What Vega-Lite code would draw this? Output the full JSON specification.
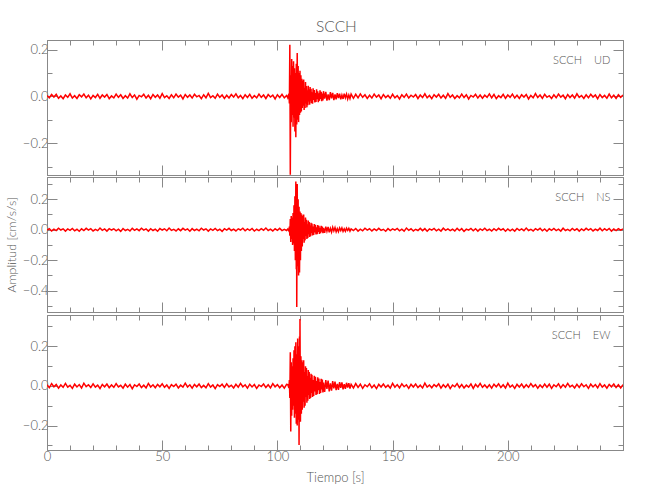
{
"$schema":"https://vega.github.io/schema/vega-lite/v6.json",
"background":"white",
"padding":{"left":4,"top":19,"right":5,"bottom":5},
"title":{"text":"SCCH","font":"Lato","fontSize":15.5,"fontWeight":300,"color":"#555","offset":4,"anchor":"middle","dx":22},
"config":{
 "view":{"stroke":"#888","strokeWidth":1},
 "concat":{"spacing":0},
 "axis":{"domainColor":"#888","tickColor":"#888","labelColor":"#555","labelFont":"Lato","labelFontWeight":300,"labelFontSize":13,"titleFont":"Lato","titleFontSize":13,"titleFontWeight":300,"titleColor":"#555","grid":false,"labelOverlap":false,"labelFlush":false,"labelBound":false}
},
"datasets":{
"ud":[
{"t":0,"v":0.004},{"t":1,"v":-0.006},{"t":2,"v":0.008},{"t":3,"v":-0.003},{"t":4,"v":0.009},{"t":5,"v":-0.008},{"t":6,"v":0.002},{"t":7,"v":-0.01},{"t":8,"v":0.006},{"t":9,"v":-0.004},
{"t":10,"v":0.011},{"t":11,"v":-0.007},{"t":12,"v":0.003},{"t":13,"v":-0.009},{"t":14,"v":0.007},{"t":15,"v":-0.002},{"t":16,"v":0.01},{"t":17,"v":-0.006},{"t":18,"v":0.005},{"t":19,"v":-0.011},
{"t":20,"v":0.004},{"t":21,"v":-0.005},{"t":22,"v":0.009},{"t":23,"v":-0.008},{"t":24,"v":0.006},{"t":25,"v":-0.003},{"t":26,"v":0.008},{"t":27,"v":-0.01},{"t":28,"v":0.002},{"t":29,"v":-0.006},
{"t":30,"v":0.01},{"t":31,"v":-0.004},{"t":32,"v":0.007},{"t":33,"v":-0.009},{"t":34,"v":0.003},{"t":35,"v":-0.007},{"t":36,"v":0.011},{"t":37,"v":-0.005},{"t":38,"v":0.006},{"t":39,"v":-0.012},
{"t":40,"v":0.004},{"t":41,"v":-0.002},{"t":42,"v":0.009},{"t":43,"v":-0.007},{"t":44,"v":0.005},{"t":45,"v":-0.01},{"t":46,"v":0.008},{"t":47,"v":-0.004},{"t":48,"v":0.006},{"t":49,"v":-0.008},
{"t":50,"v":0.012},{"t":51,"v":-0.005},{"t":52,"v":0.003},{"t":53,"v":-0.009},{"t":54,"v":0.007},{"t":55,"v":-0.006},{"t":56,"v":0.01},{"t":57,"v":-0.003},{"t":58,"v":0.005},{"t":59,"v":-0.011},
{"t":60,"v":0.008},{"t":61,"v":-0.004},{"t":62,"v":0.006},{"t":63,"v":-0.007},{"t":64,"v":0.009},{"t":65,"v":-0.002},{"t":66,"v":0.004},{"t":67,"v":-0.01},{"t":68,"v":0.007},{"t":69,"v":-0.006},
{"t":70,"v":0.013},{"t":71,"v":-0.005},{"t":72,"v":0.003},{"t":73,"v":-0.008},{"t":74,"v":0.01},{"t":75,"v":-0.004},{"t":76,"v":0.006},{"t":77,"v":-0.009},{"t":78,"v":0.005},{"t":79,"v":-0.007},
{"t":80,"v":0.008},{"t":81,"v":-0.003},{"t":82,"v":0.011},{"t":83,"v":-0.006},{"t":84,"v":0.004},{"t":85,"v":-0.01},{"t":86,"v":0.007},{"t":87,"v":-0.005},{"t":88,"v":0.009},{"t":89,"v":-0.008},
{"t":90,"v":0.003},{"t":91,"v":-0.006},{"t":92,"v":0.01},{"t":93,"v":-0.004},{"t":94,"v":0.006},{"t":95,"v":-0.009},{"t":96,"v":0.008},{"t":97,"v":-0.003},{"t":98,"v":0.005},{"t":99,"v":-0.011},
{"t":100,"v":0.007},{"t":101,"v":-0.005},{"t":102,"v":0.009},{"t":103,"v":-0.006},{"t":104,"v":0.004},
{"t":104.5,"v":-0.006},{"t":105,"v":0.012},{"t":105.2,"v":-0.03},{"t":105.4,"v":0.221},{"t":105.6,"v":-0.335},{"t":105.8,"v":0.09},{"t":106,"v":-0.11},{"t":106.2,"v":0.16},{"t":106.4,"v":-0.08},{"t":106.6,"v":0.13},{"t":106.8,"v":-0.13},
{"t":107,"v":0.15},{"t":107.2,"v":-0.09},{"t":107.4,"v":0.12},{"t":107.6,"v":-0.15},{"t":107.8,"v":0.1},{"t":108,"v":-0.175},{"t":108.2,"v":0.14},{"t":108.4,"v":-0.12},{"t":108.6,"v":0.185},{"t":108.8,"v":-0.1},
{"t":109,"v":0.13},{"t":109.2,"v":-0.11},{"t":109.4,"v":0.1},{"t":109.6,"v":-0.08},{"t":109.8,"v":0.11},{"t":110,"v":-0.07},{"t":110.2,"v":0.09},{"t":110.4,"v":-0.065},{"t":110.6,"v":0.075},{"t":110.8,"v":-0.05},
{"t":111,"v":0.068},{"t":111.2,"v":-0.04},{"t":111.4,"v":0.072},{"t":111.6,"v":-0.058},{"t":111.8,"v":0.035},{"t":112,"v":-0.05},{"t":112.2,"v":0.061},{"t":112.4,"v":-0.03},{"t":112.6,"v":0.044},{"t":112.8,"v":-0.047},
{"t":113,"v":0.026},{"t":113.2,"v":-0.038},{"t":113.4,"v":0.045},{"t":113.6,"v":-0.022},{"t":113.8,"v":0.03},{"t":114,"v":-0.036},{"t":114.2,"v":0.04},{"t":114.4,"v":-0.018},{"t":114.6,"v":0.033},{"t":114.8,"v":-0.029},
{"t":115,"v":0.018},{"t":115.25,"v":-0.031},{"t":115.5,"v":0.035},{"t":115.75,"v":-0.015},{"t":116,"v":0.027},{"t":116.25,"v":-0.026},{"t":116.5,"v":0.014},{"t":116.75,"v":-0.024},{"t":117,"v":0.03},{"t":117.25,"v":-0.012},
{"t":117.5,"v":0.022},{"t":117.75,"v":-0.025},{"t":118,"v":0.013},{"t":118.25,"v":-0.019},{"t":118.5,"v":0.026},{"t":118.75,"v":-0.011},{"t":119,"v":0.02},{"t":119.25,"v":-0.021},{"t":119.5,"v":0.012},{"t":119.75,"v":-0.017},
{"t":120,"v":0.022},{"t":120.5,"v":-0.01},{"t":121,"v":0.019},{"t":121.5,"v":-0.018},{"t":122,"v":0.009},{"t":122.5,"v":-0.016},{"t":123,"v":0.018},{"t":123.5,"v":-0.008},{"t":124,"v":0.015},{"t":124.5,"v":-0.016},
{"t":125,"v":0.008},{"t":125.5,"v":-0.013},{"t":126,"v":0.014},{"t":126.5,"v":-0.007},{"t":127,"v":0.012},{"t":127.5,"v":-0.013},{"t":128,"v":0.006},{"t":128.5,"v":-0.011},{"t":129,"v":0.012},{"t":129.5,"v":-0.006},
{"t":130,"v":0.01},{"t":130.5,"v":-0.011},{"t":131,"v":0.006},{"t":131.5,"v":-0.009},{"t":132,"v":0.01},
{"t":133,"v":-0.008},{"t":134,"v":0.009},{"t":135,"v":-0.006},{"t":136,"v":0.011},{"t":137,"v":-0.004},{"t":138,"v":0.007},{"t":139,"v":-0.009},{"t":140,"v":0.005},{"t":141,"v":-0.007},{"t":142,"v":0.01},
{"t":143,"v":-0.003},{"t":144,"v":0.006},{"t":145,"v":-0.01},{"t":146,"v":0.008},{"t":147,"v":-0.005},{"t":148,"v":0.004},{"t":149,"v":-0.008},{"t":150,"v":0.009},{"t":151,"v":-0.006},{"t":152,"v":0.003},
{"t":153,"v":-0.011},{"t":154,"v":0.007},{"t":155,"v":-0.004},{"t":156,"v":0.01},{"t":157,"v":-0.007},{"t":158,"v":0.005},{"t":159,"v":-0.003},{"t":160,"v":0.008},{"t":161,"v":-0.009},{"t":162,"v":0.006},
{"t":163,"v":-0.005},{"t":164,"v":0.011},{"t":165,"v":-0.006},{"t":166,"v":0.004},{"t":167,"v":-0.01},{"t":168,"v":0.007},{"t":169,"v":-0.003},{"t":170,"v":0.009},{"t":171,"v":-0.007},{"t":172,"v":0.005},
{"t":173,"v":-0.008},{"t":174,"v":0.012},{"t":175,"v":-0.004},{"t":176,"v":0.006},{"t":177,"v":-0.009},{"t":178,"v":0.003},{"t":179,"v":-0.006},{"t":180,"v":0.01},{"t":181,"v":-0.005},{"t":182,"v":0.007},
{"t":183,"v":-0.011},{"t":184,"v":0.004},{"t":185,"v":-0.003},{"t":186,"v":0.009},{"t":187,"v":-0.007},{"t":188,"v":0.006},{"t":189,"v":-0.008},{"t":190,"v":0.005},{"t":191,"v":-0.004},{"t":192,"v":0.011},
{"t":193,"v":-0.006},{"t":194,"v":0.008},{"t":195,"v":-0.01},{"t":196,"v":0.003},{"t":197,"v":-0.005},{"t":198,"v":0.009},{"t":199,"v":-0.008},{"t":200,"v":0.006},{"t":201,"v":-0.004},{"t":202,"v":0.01},
{"t":203,"v":-0.007},{"t":204,"v":0.005},{"t":205,"v":-0.009},{"t":206,"v":0.007},{"t":207,"v":-0.003},{"t":208,"v":0.008},{"t":209,"v":-0.011},{"t":210,"v":0.004},{"t":211,"v":-0.006},{"t":212,"v":0.012},
{"t":213,"v":-0.005},{"t":214,"v":0.006},{"t":215,"v":-0.008},{"t":216,"v":0.009},{"t":217,"v":-0.004},{"t":218,"v":0.003},{"t":219,"v":-0.009},{"t":220,"v":0.007},{"t":221,"v":-0.006},{"t":222,"v":0.01},
{"t":223,"v":-0.003},{"t":224,"v":0.005},{"t":225,"v":-0.01},{"t":226,"v":0.008},{"t":227,"v":-0.005},{"t":228,"v":0.006},{"t":229,"v":-0.007},{"t":230,"v":0.011},{"t":231,"v":-0.004},{"t":232,"v":0.004},
{"t":233,"v":-0.009},{"t":234,"v":0.007},{"t":235,"v":-0.006},{"t":236,"v":0.009},{"t":237,"v":-0.003},{"t":238,"v":0.006},{"t":239,"v":-0.01},{"t":240,"v":0.008},{"t":241,"v":-0.005},{"t":242,"v":0.004},
{"t":243,"v":-0.008},{"t":244,"v":0.01},{"t":245,"v":-0.006},{"t":246,"v":0.005},{"t":247,"v":-0.009},{"t":248,"v":0.007},{"t":249,"v":-0.004},{"t":250,"v":0.006}
],
"ns":[
{"t":0,"v":-0.003},{"t":1,"v":0.007},{"t":2,"v":-0.008},{"t":3,"v":0.004},{"t":4,"v":-0.006},{"t":5,"v":0.01},{"t":6,"v":-0.002},{"t":7,"v":0.006},{"t":8,"v":-0.009},{"t":9,"v":0.005},
{"t":10,"v":-0.004},{"t":11,"v":0.008},{"t":12,"v":-0.007},{"t":13,"v":0.003},{"t":14,"v":-0.01},{"t":15,"v":0.006},{"t":16,"v":-0.005},{"t":17,"v":0.009},{"t":18,"v":-0.003},{"t":19,"v":0.007},
{"t":20,"v":-0.008},{"t":21,"v":0.002},{"t":22,"v":-0.006},{"t":23,"v":0.011},{"t":24,"v":-0.004},{"t":25,"v":0.005},{"t":26,"v":-0.009},{"t":27,"v":0.007},{"t":28,"v":-0.002},{"t":29,"v":0.006},
{"t":30,"v":-0.007},{"t":31,"v":0.004},{"t":32,"v":-0.011},{"t":33,"v":0.008},{"t":34,"v":-0.005},{"t":35,"v":0.003},{"t":36,"v":-0.008},{"t":37,"v":0.009},{"t":38,"v":-0.004},{"t":39,"v":0.006},
{"t":40,"v":-0.006},{"t":41,"v":0.01},{"t":42,"v":-0.003},{"t":43,"v":0.005},{"t":44,"v":-0.009},{"t":45,"v":0.007},{"t":46,"v":-0.005},{"t":47,"v":0.004},{"t":48,"v":-0.01},{"t":49,"v":0.008},
{"t":50,"v":-0.002},{"t":51,"v":0.006},{"t":52,"v":-0.007},{"t":53,"v":0.011},{"t":54,"v":-0.004},{"t":55,"v":0.003},{"t":56,"v":-0.008},{"t":57,"v":0.006},{"t":58,"v":-0.006},{"t":59,"v":0.009},
{"t":60,"v":-0.003},{"t":61,"v":0.005},{"t":62,"v":-0.01},{"t":63,"v":0.007},{"t":64,"v":-0.005},{"t":65,"v":0.004},{"t":66,"v":-0.007},{"t":67,"v":0.01},{"t":68,"v":-0.002},{"t":69,"v":0.006},
{"t":70,"v":-0.009},{"t":71,"v":0.005},{"t":72,"v":-0.004},{"t":73,"v":0.008},{"t":74,"v":-0.006},{"t":75,"v":0.003},{"t":76,"v":-0.011},{"t":77,"v":0.007},{"t":78,"v":-0.003},{"t":79,"v":0.009},
{"t":80,"v":-0.005},{"t":81,"v":0.004},{"t":82,"v":-0.008},{"t":83,"v":0.006},{"t":84,"v":-0.002},{"t":85,"v":0.01},{"t":86,"v":-0.007},{"t":87,"v":0.005},{"t":88,"v":-0.004},{"t":89,"v":0.008},
{"t":90,"v":-0.009},{"t":91,"v":0.003},{"t":92,"v":-0.006},{"t":93,"v":0.007},{"t":94,"v":-0.003},{"t":95,"v":0.011},{"t":96,"v":-0.005},{"t":97,"v":0.004},{"t":98,"v":-0.008},{"t":99,"v":0.006},
{"t":100,"v":-0.004},{"t":101,"v":0.009},{"t":102,"v":-0.006},{"t":103,"v":0.003},{"t":104,"v":-0.005},
{"t":104.5,"v":0.004},{"t":105,"v":-0.008},{"t":105.2,"v":0.02},{"t":105.4,"v":-0.04},{"t":105.6,"v":0.07},{"t":105.8,"v":-0.08},{"t":106,"v":0.09},{"t":106.2,"v":-0.06},{"t":106.4,"v":0.08},{"t":106.6,"v":-0.1},{"t":106.8,"v":0.11},
{"t":107,"v":-0.09},{"t":107.2,"v":0.16},{"t":107.4,"v":-0.14},{"t":107.6,"v":0.22},{"t":107.8,"v":-0.2},{"t":108,"v":0.317},{"t":108.2,"v":-0.26},{"t":108.3,"v":0.28},{"t":108.4,"v":-0.507},{"t":108.6,"v":0.3},{"t":108.8,"v":-0.24},
{"t":109,"v":0.2},{"t":109.2,"v":-0.3},{"t":109.4,"v":0.15},{"t":109.6,"v":-0.28},{"t":109.8,"v":0.12},{"t":110,"v":-0.2},{"t":110.2,"v":0.11},{"t":110.4,"v":-0.14},{"t":110.6,"v":0.1},{"t":110.8,"v":-0.11},
{"t":111,"v":0.09},{"t":111.2,"v":-0.06},{"t":111.4,"v":0.1},{"t":111.6,"v":-0.085},{"t":111.8,"v":0.05},{"t":112,"v":-0.07},{"t":112.2,"v":0.08},{"t":112.4,"v":-0.04},{"t":112.6,"v":0.065},{"t":112.8,"v":-0.06},
{"t":113,"v":0.035},{"t":113.2,"v":-0.055},{"t":113.4,"v":0.06},{"t":113.6,"v":-0.03},{"t":113.8,"v":0.05},{"t":114,"v":-0.048},{"t":114.2,"v":0.028},{"t":114.4,"v":-0.042},{"t":114.6,"v":0.046},{"t":114.8,"v":-0.022},
{"t":115,"v":0.04},{"t":115.25,"v":-0.038},{"t":115.5,"v":0.02},{"t":115.75,"v":-0.035},{"t":116,"v":0.037},{"t":116.25,"v":-0.018},{"t":116.5,"v":0.032},{"t":116.75,"v":-0.031},{"t":117,"v":0.016},{"t":117.25,"v":-0.029},
{"t":117.5,"v":0.03},{"t":117.75,"v":-0.014},{"t":118,"v":0.026},{"t":118.25,"v":-0.027},{"t":118.5,"v":0.013},{"t":118.75,"v":-0.023},{"t":119,"v":0.025},{"t":119.25,"v":-0.012},{"t":119.5,"v":0.021},{"t":119.75,"v":-0.022},
{"t":120,"v":0.011},{"t":120.5,"v":-0.02},{"t":121,"v":0.02},{"t":121.5,"v":-0.01},{"t":122,"v":0.018},{"t":122.5,"v":-0.017},{"t":123,"v":0.009},{"t":123.5,"v":-0.016},{"t":124,"v":0.016},{"t":124.5,"v":-0.008},
{"t":125,"v":0.014},{"t":125.5,"v":-0.014},{"t":126,"v":0.007},{"t":126.5,"v":-0.013},{"t":127,"v":0.012},{"t":127.5,"v":-0.006},{"t":128,"v":0.012},{"t":128.5,"v":-0.011},{"t":129,"v":0.006},{"t":129.5,"v":-0.01},
{"t":130,"v":0.01},{"t":130.5,"v":-0.005},{"t":131,"v":0.009},{"t":131.5,"v":-0.009},{"t":132,"v":0.006},
{"t":133,"v":-0.006},{"t":134,"v":0.008},{"t":135,"v":-0.009},{"t":136,"v":0.004},{"t":137,"v":-0.007},{"t":138,"v":0.01},{"t":139,"v":-0.003},{"t":140,"v":0.006},{"t":141,"v":-0.008},{"t":142,"v":0.005},
{"t":143,"v":-0.005},{"t":144,"v":0.009},{"t":145,"v":-0.004},{"t":146,"v":0.003},{"t":147,"v":-0.01},{"t":148,"v":0.007},{"t":149,"v":-0.006},{"t":150,"v":0.005},{"t":151,"v":-0.003},{"t":152,"v":0.008},
{"t":153,"v":-0.007},{"t":154,"v":0.004},{"t":155,"v":-0.009},{"t":156,"v":0.011},{"t":157,"v":-0.004},{"t":158,"v":0.006},{"t":159,"v":-0.008},{"t":160,"v":0.003},{"t":161,"v":-0.005},{"t":162,"v":0.009},
{"t":163,"v":-0.006},{"t":164,"v":0.007},{"t":165,"v":-0.01},{"t":166,"v":0.005},{"t":167,"v":-0.003},{"t":168,"v":0.008},{"t":169,"v":-0.007},{"t":170,"v":0.004},{"t":171,"v":-0.009},{"t":172,"v":0.01},
{"t":173,"v":-0.004},{"t":174,"v":0.006},{"t":175,"v":-0.006},{"t":176,"v":0.003},{"t":177,"v":-0.008},{"t":178,"v":0.009},{"t":179,"v":-0.005},{"t":180,"v":0.007},{"t":181,"v":-0.011},{"t":182,"v":0.004},
{"t":183,"v":-0.003},{"t":184,"v":0.008},{"t":185,"v":-0.007},{"t":186,"v":0.006},{"t":187,"v":-0.009},{"t":188,"v":0.005},{"t":189,"v":-0.004},{"t":190,"v":0.01},{"t":191,"v":-0.006},{"t":192,"v":0.003},
{"t":193,"v":-0.008},{"t":194,"v":0.007},{"t":195,"v":-0.005},{"t":196,"v":0.009},{"t":197,"v":-0.003},{"t":198,"v":0.006},{"t":199,"v":-0.01},{"t":200,"v":0.005},{"t":201,"v":-0.007},{"t":202,"v":0.004},
{"t":203,"v":-0.009},{"t":204,"v":0.008},{"t":205,"v":-0.004},{"t":206,"v":0.006},{"t":207,"v":-0.006},{"t":208,"v":0.011},{"t":209,"v":-0.005},{"t":210,"v":0.003},{"t":211,"v":-0.008},{"t":212,"v":0.007},
{"t":213,"v":-0.003},{"t":214,"v":0.009},{"t":215,"v":-0.007},{"t":216,"v":0.005},{"t":217,"v":-0.01},{"t":218,"v":0.006},{"t":219,"v":-0.004},{"t":220,"v":0.008},{"t":221,"v":-0.006},{"t":222,"v":0.004},
{"t":223,"v":-0.009},{"t":224,"v":0.01},{"t":225,"v":-0.005},{"t":226,"v":0.003},{"t":227,"v":-0.007},{"t":228,"v":0.008},{"t":229,"v":-0.004},{"t":230,"v":0.006},{"t":231,"v":-0.009},{"t":232,"v":0.005},
{"t":233,"v":-0.006},{"t":234,"v":0.009},{"t":235,"v":-0.003},{"t":236,"v":0.007},{"t":237,"v":-0.008},{"t":238,"v":0.004},{"t":239,"v":-0.005},{"t":240,"v":0.01},{"t":241,"v":-0.007},{"t":242,"v":0.006},
{"t":243,"v":-0.004},{"t":244,"v":0.008},{"t":245,"v":-0.009},{"t":246,"v":0.005},{"t":247,"v":-0.006},{"t":248,"v":0.007},{"t":249,"v":-0.003},{"t":250,"v":0.005}
],
"ew":[
{"t":0,"v":0.006},{"t":1,"v":-0.009},{"t":2,"v":0.012},{"t":3,"v":-0.004},{"t":4,"v":0.008},{"t":5,"v":-0.011},{"t":6,"v":0.005},{"t":7,"v":-0.007},{"t":8,"v":0.013},{"t":9,"v":-0.006},
{"t":10,"v":0.003},{"t":11,"v":-0.012},{"t":12,"v":0.009},{"t":13,"v":-0.005},{"t":14,"v":0.007},{"t":15,"v":-0.01},{"t":16,"v":0.014},{"t":17,"v":-0.003},{"t":18,"v":0.006},{"t":19,"v":-0.008},
{"t":20,"v":0.011},{"t":21,"v":-0.006},{"t":22,"v":0.004},{"t":23,"v":-0.013},{"t":24,"v":0.008},{"t":25,"v":-0.004},{"t":26,"v":0.01},{"t":27,"v":-0.009},{"t":28,"v":0.005},{"t":29,"v":-0.007},
{"t":30,"v":0.012},{"t":31,"v":-0.005},{"t":32,"v":0.003},{"t":33,"v":-0.011},{"t":34,"v":0.009},{"t":35,"v":-0.006},{"t":36,"v":0.007},{"t":37,"v":-0.014},{"t":38,"v":0.006},{"t":39,"v":-0.003},
{"t":40,"v":0.01},{"t":41,"v":-0.008},{"t":42,"v":0.004},{"t":43,"v":-0.01},{"t":44,"v":0.013},{"t":45,"v":-0.005},{"t":46,"v":0.006},{"t":47,"v":-0.009},{"t":48,"v":0.008},{"t":49,"v":-0.004},
{"t":50,"v":0.011},{"t":51,"v":-0.007},{"t":52,"v":0.005},{"t":53,"v":-0.012},{"t":54,"v":0.007},{"t":55,"v":-0.003},{"t":56,"v":0.009},{"t":57,"v":-0.01},{"t":58,"v":0.004},{"t":59,"v":-0.006},
{"t":60,"v":0.014},{"t":61,"v":-0.005},{"t":62,"v":0.006},{"t":63,"v":-0.011},{"t":64,"v":0.008},{"t":65,"v":-0.004},{"t":66,"v":0.01},{"t":67,"v":-0.008},{"t":68,"v":0.003},{"t":69,"v":-0.009},
{"t":70,"v":0.012},{"t":71,"v":-0.006},{"t":72,"v":0.005},{"t":73,"v":-0.013},{"t":74,"v":0.007},{"t":75,"v":-0.003},{"t":76,"v":0.009},{"t":77,"v":-0.007},{"t":78,"v":0.011},{"t":79,"v":-0.005},
{"t":80,"v":0.004},{"t":81,"v":-0.01},{"t":82,"v":0.008},{"t":83,"v":-0.006},{"t":84,"v":0.013},{"t":85,"v":-0.004},{"t":86,"v":0.006},{"t":87,"v":-0.011},{"t":88,"v":0.009},{"t":89,"v":-0.005},
{"t":90,"v":0.007},{"t":91,"v":-0.012},{"t":92,"v":0.005},{"t":93,"v":-0.003},{"t":94,"v":0.01},{"t":95,"v":-0.008},{"t":96,"v":0.006},{"t":97,"v":-0.01},{"t":98,"v":0.012},{"t":99,"v":-0.004},
{"t":100,"v":0.007},{"t":101,"v":-0.009},{"t":102,"v":0.005},{"t":103,"v":-0.011},{"t":104,"v":0.008},
{"t":104.5,"v":0.007},{"t":105,"v":-0.01},{"t":105.2,"v":0.03},{"t":105.4,"v":-0.06},{"t":105.6,"v":0.17},{"t":105.8,"v":-0.23},{"t":106,"v":0.12},{"t":106.2,"v":-0.15},{"t":106.4,"v":0.1},{"t":106.6,"v":-0.12},{"t":106.8,"v":0.14},
{"t":107,"v":-0.1},{"t":107.2,"v":0.18},{"t":107.4,"v":-0.16},{"t":107.6,"v":0.2},{"t":107.8,"v":-0.14},{"t":108,"v":0.22},{"t":108.2,"v":-0.19},{"t":108.4,"v":0.16},{"t":108.6,"v":-0.2},{"t":108.8,"v":0.24},
{"t":109,"v":-0.17},{"t":109.2,"v":0.2},{"t":109.4,"v":-0.298},{"t":109.6,"v":0.25},{"t":109.7,"v":-0.12},{"t":109.8,"v":0.338},{"t":110,"v":-0.18},{"t":110.2,"v":0.15},{"t":110.4,"v":-0.14},{"t":110.6,"v":0.13},{"t":110.8,"v":-0.12},
{"t":111,"v":0.12},{"t":111.2,"v":-0.08},{"t":111.4,"v":0.13},{"t":111.6,"v":-0.11},{"t":111.8,"v":0.07},{"t":112,"v":-0.1},{"t":112.2,"v":0.1},{"t":112.4,"v":-0.055},{"t":112.6,"v":0.09},{"t":112.8,"v":-0.085},
{"t":113,"v":0.05},{"t":113.2,"v":-0.075},{"t":113.4,"v":0.08},{"t":113.6,"v":-0.045},{"t":113.8,"v":0.07},{"t":114,"v":-0.066},{"t":114.2,"v":0.04},{"t":114.4,"v":-0.06},{"t":114.6,"v":0.062},{"t":114.8,"v":-0.035},
{"t":115,"v":0.057},{"t":115.25,"v":-0.055},{"t":115.5,"v":0.03},{"t":115.75,"v":-0.05},{"t":116,"v":0.052},{"t":116.25,"v":-0.028},{"t":116.5,"v":0.046},{"t":116.75,"v":-0.045},{"t":117,"v":0.025},{"t":117.25,"v":-0.042},
{"t":117.5,"v":0.044},{"t":117.75,"v":-0.022},{"t":118,"v":0.038},{"t":118.25,"v":-0.04},{"t":118.5,"v":0.02},{"t":118.75,"v":-0.035},{"t":119,"v":0.036},{"t":119.25,"v":-0.018},{"t":119.5,"v":0.032},{"t":119.75,"v":-0.033},
{"t":120,"v":0.017},{"t":120.5,"v":-0.03},{"t":121,"v":0.03},{"t":121.5,"v":-0.015},{"t":122,"v":0.027},{"t":122.5,"v":-0.027},{"t":123,"v":0.013},{"t":123.5,"v":-0.024},{"t":124,"v":0.025},{"t":124.5,"v":-0.012},
{"t":125,"v":0.022},{"t":125.5,"v":-0.021},{"t":126,"v":0.011},{"t":126.5,"v":-0.02},{"t":127,"v":0.019},{"t":127.5,"v":-0.01},{"t":128,"v":0.018},{"t":128.5,"v":-0.017},{"t":129,"v":0.009},{"t":129.5,"v":-0.015},
{"t":130,"v":0.016},{"t":130.5,"v":-0.008},{"t":131,"v":0.014},{"t":131.5,"v":-0.013},{"t":132,"v":0.008},
{"t":133,"v":-0.01},{"t":134,"v":0.012},{"t":135,"v":-0.007},{"t":136,"v":0.009},{"t":137,"v":-0.012},{"t":138,"v":0.006},{"t":139,"v":-0.004},{"t":140,"v":0.011},{"t":141,"v":-0.009},{"t":142,"v":0.005},
{"t":143,"v":-0.013},{"t":144,"v":0.008},{"t":145,"v":-0.005},{"t":146,"v":0.01},{"t":147,"v":-0.007},{"t":148,"v":0.004},{"t":149,"v":-0.011},{"t":150,"v":0.013},{"t":151,"v":-0.006},{"t":152,"v":0.007},
{"t":153,"v":-0.009},{"t":154,"v":0.011},{"t":155,"v":-0.004},{"t":156,"v":0.006},{"t":157,"v":-0.012},{"t":158,"v":0.008},{"t":159,"v":-0.005},{"t":160,"v":0.01},{"t":161,"v":-0.008},{"t":162,"v":0.004},
{"t":163,"v":-0.01},{"t":164,"v":0.014},{"t":165,"v":-0.006},{"t":166,"v":0.005},{"t":167,"v":-0.009},{"t":168,"v":0.007},{"t":169,"v":-0.003},{"t":170,"v":0.011},{"t":171,"v":-0.011},{"t":172,"v":0.006},
{"t":173,"v":-0.007},{"t":174,"v":0.009},{"t":175,"v":-0.013},{"t":176,"v":0.005},{"t":177,"v":-0.004},{"t":178,"v":0.012},{"t":179,"v":-0.008},{"t":180,"v":0.007},{"t":181,"v":-0.01},{"t":182,"v":0.004},
{"t":183,"v":-0.006},{"t":184,"v":0.01},{"t":185,"v":-0.012},{"t":186,"v":0.008},{"t":187,"v":-0.005},{"t":188,"v":0.013},{"t":189,"v":-0.007},{"t":190,"v":0.005},{"t":191,"v":-0.009},{"t":192,"v":0.006},
{"t":193,"v":-0.011},{"t":194,"v":0.009},{"t":195,"v":-0.004},{"t":196,"v":0.011},{"t":197,"v":-0.008},{"t":198,"v":0.006},{"t":199,"v":-0.01},{"t":200,"v":0.014},{"t":201,"v":-0.006},{"t":202,"v":0.004},
{"t":203,"v":-0.012},{"t":204,"v":0.008},{"t":205,"v":-0.005},{"t":206,"v":0.01},{"t":207,"v":-0.009},{"t":208,"v":0.006},{"t":209,"v":-0.007},{"t":210,"v":0.012},{"t":211,"v":-0.004},{"t":212,"v":0.007},
{"t":213,"v":-0.011},{"t":214,"v":0.005},{"t":215,"v":-0.008},{"t":216,"v":0.01},{"t":217,"v":-0.006},{"t":218,"v":0.009},{"t":219,"v":-0.012},{"t":220,"v":0.006},{"t":221,"v":-0.004},{"t":222,"v":0.011},
{"t":223,"v":-0.009},{"t":224,"v":0.007},{"t":225,"v":-0.006},{"t":226,"v":0.013},{"t":227,"v":-0.005},{"t":228,"v":0.004},{"t":229,"v":-0.01},{"t":230,"v":0.008},{"t":231,"v":-0.007},{"t":232,"v":0.011},
{"t":233,"v":-0.004},{"t":234,"v":0.006},{"t":235,"v":-0.012},{"t":236,"v":0.009},{"t":237,"v":-0.005},{"t":238,"v":0.007},{"t":239,"v":-0.009},{"t":240,"v":0.012},{"t":241,"v":-0.006},{"t":242,"v":0.005},
{"t":243,"v":-0.011},{"t":244,"v":0.008},{"t":245,"v":-0.004},{"t":246,"v":0.01},{"t":247,"v":-0.008},{"t":248,"v":0.006},{"t":249,"v":-0.01},{"t":250,"v":0.007}
]
},
"vconcat":[
{"width":576,"height":135,
 "layer":[
  {"data":{"name":"ud"},"mark":{"type":"line","color":"#ff0000","strokeWidth":1.5,"clip":true},
   "encoding":{
    "x":{"field":"t","type":"quantitative","scale":{"domain":[0,250],"nice":false,"zero":false},
     "axis":{"orient":"bottom","values":[0,10,20,30,40,50,60,70,80,90,100,110,120,130,140,150,160,170,180,190,200,210,220,230,240,250],"labels":false,"title":null,"tickSize":{"condition":{"test":"datum.value % 50 === 0","value":-10},"value":-5}}},
    "y":{"field":"v","type":"quantitative","scale":{"domain":[-0.336,0.241],"nice":false,"zero":false},
     "axis":{"orient":"left","values":[-0.3,-0.2,-0.1,0,0.1,0.2],"labelExpr":"abs(round(datum.value*10)) % 2 === 0 ? format(datum.value, '.1f') : ''","labelPadding":9,"title":null,"tickSize":{"condition":{"test":"abs(round(datum.value*10)) % 2 === 0","value":-10},"value":-5}}}
   }},
  {"data":{"name":"ud"},"mark":{"type":"line","opacity":0},
   "encoding":{
    "x":{"field":"t","type":"quantitative","axis":{"orient":"top","values":[0,10,20,30,40,50,60,70,80,90,100,110,120,130,140,150,160,170,180,190,200,210,220,230,240,250],"labels":false,"title":null,"tickSize":{"condition":{"test":"datum.value % 50 === 0","value":-10},"value":-5}}},
    "y":{"field":"v","type":"quantitative","axis":{"orient":"right","values":[-0.3,-0.2,-0.1,0,0.1,0.2],"labels":false,"title":null,"tickSize":{"condition":{"test":"abs(round(datum.value*10)) % 2 === 0","value":-10},"value":-5}}}
   }},
  {"data":{"values":[{}]},"mark":{"type":"text","align":"right","baseline":"middle","font":"Lato","fontWeight":300,"fontSize":11,"color":"#555"},
   "encoding":{"x":{"datum":244.5,"type":"quantitative","axis":null},"y":{"datum":0.152,"type":"quantitative","axis":null},"text":{"value":"SCCH\u00a0\u00a0\u00a0\u00a0UD"}}}
 ],
 "resolve":{"axis":{"x":"independent","y":"independent"}}
},
{"width":576,"height":135,
 "layer":[
  {"data":{"name":"ns"},"mark":{"type":"line","color":"#ff0000","strokeWidth":1.5,"clip":true},
   "encoding":{
    "x":{"field":"t","type":"quantitative","scale":{"domain":[0,250],"nice":false,"zero":false},
     "axis":{"orient":"bottom","values":[0,10,20,30,40,50,60,70,80,90,100,110,120,130,140,150,160,170,180,190,200,210,220,230,240,250],"labels":false,"title":null,"tickSize":{"condition":{"test":"datum.value % 50 === 0","value":-10},"value":-5}}},
    "y":{"field":"v","type":"quantitative","scale":{"domain":[-0.54,0.346],"nice":false,"zero":false},
     "axis":{"orient":"left","values":[-0.5,-0.4,-0.3,-0.2,-0.1,0,0.1,0.2,0.3],"labelExpr":"abs(round(datum.value*10)) % 2 === 0 ? format(datum.value, '.1f') : ''","labelPadding":9,"title":"Amplitud  [cm/s/s]","titleFontSize":12.5,"titlePadding":4,"tickSize":{"condition":{"test":"abs(round(datum.value*10)) % 2 === 0","value":-10},"value":-5}}}
   }},
  {"data":{"name":"ns"},"mark":{"type":"line","opacity":0},
   "encoding":{
    "x":{"field":"t","type":"quantitative","axis":{"orient":"top","values":[0,10,20,30,40,50,60,70,80,90,100,110,120,130,140,150,160,170,180,190,200,210,220,230,240,250],"labels":false,"title":null,"tickSize":{"condition":{"test":"datum.value % 50 === 0","value":-10},"value":-5}}},
    "y":{"field":"v","type":"quantitative","axis":{"orient":"right","values":[-0.5,-0.4,-0.3,-0.2,-0.1,0,0.1,0.2,0.3],"labels":false,"title":null,"tickSize":{"condition":{"test":"abs(round(datum.value*10)) % 2 === 0","value":-10},"value":-5}}}
   }},
  {"data":{"values":[{}]},"mark":{"type":"text","align":"right","baseline":"middle","font":"Lato","fontWeight":300,"fontSize":11,"color":"#555"},
   "encoding":{"x":{"datum":244.5,"type":"quantitative","axis":null},"y":{"datum":0.208,"type":"quantitative","axis":null},"text":{"value":"SCCH\u00a0\u00a0\u00a0\u00a0NS"}}}
 ],
 "resolve":{"axis":{"x":"independent","y":"independent"}}
},
{"width":576,"height":135,
 "layer":[
  {"data":{"name":"ew"},"mark":{"type":"line","color":"#ff0000","strokeWidth":1.5,"clip":true},
   "encoding":{
    "x":{"field":"t","type":"quantitative","scale":{"domain":[0,250],"nice":false,"zero":false},
     "axis":{"orient":"bottom","values":[0,10,20,30,40,50,60,70,80,90,100,110,120,130,140,150,160,170,180,190,200,210,220,230,240,250],"labelExpr":"datum.value % 50 === 0 && datum.value < 250 ? datum.label : ''","labelPadding":10,"title":"Tiempo  [s]","titlePadding":3,"tickSize":{"condition":{"test":"datum.value % 50 === 0","value":-10},"value":-5}}},
    "y":{"field":"v","type":"quantitative","scale":{"domain":[-0.323,0.358],"nice":false,"zero":false},
     "axis":{"orient":"left","values":[-0.3,-0.2,-0.1,0,0.1,0.2,0.3],"labelExpr":"abs(round(datum.value*10)) % 2 === 0 ? format(datum.value, '.1f') : ''","labelPadding":9,"title":null,"tickSize":{"condition":{"test":"abs(round(datum.value*10)) % 2 === 0","value":-10},"value":-5}}}
   }},
  {"data":{"name":"ew"},"mark":{"type":"line","opacity":0},
   "encoding":{
    "x":{"field":"t","type":"quantitative","axis":{"orient":"top","values":[0,10,20,30,40,50,60,70,80,90,100,110,120,130,140,150,160,170,180,190,200,210,220,230,240,250],"labels":false,"title":null,"tickSize":{"condition":{"test":"datum.value % 50 === 0","value":-10},"value":-5}}},
    "y":{"field":"v","type":"quantitative","axis":{"orient":"right","values":[-0.3,-0.2,-0.1,0,0.1,0.2,0.3],"labels":false,"title":null,"tickSize":{"condition":{"test":"abs(round(datum.value*10)) % 2 === 0","value":-10},"value":-5}}}
   }},
  {"data":{"values":[{}]},"mark":{"type":"text","align":"right","baseline":"middle","font":"Lato","fontWeight":300,"fontSize":11,"color":"#555"},
   "encoding":{"x":{"datum":244.5,"type":"quantitative","axis":null},"y":{"datum":0.252,"type":"quantitative","axis":null},"text":{"value":"SCCH\u00a0\u00a0\u00a0\u00a0EW"}}}
 ],
 "resolve":{"axis":{"x":"independent","y":"independent"}}
}
]
}
